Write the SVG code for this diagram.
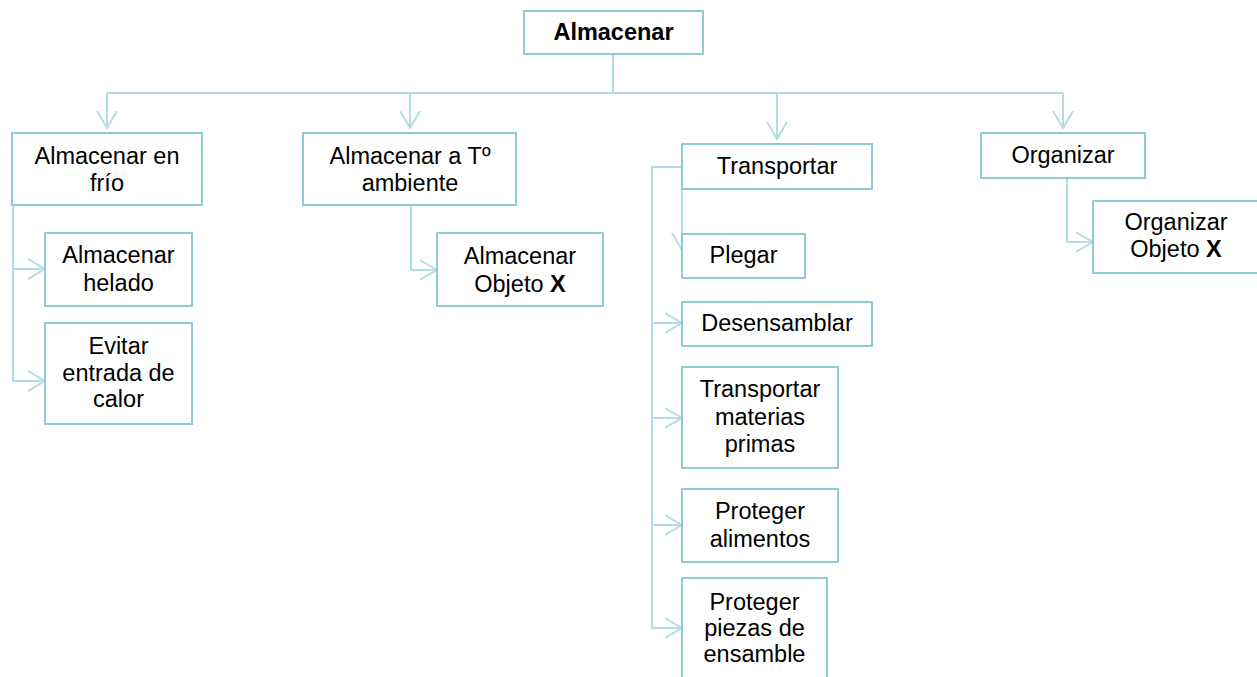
<svg xmlns="http://www.w3.org/2000/svg" width="1257" height="677" viewBox="0 0 1257 677">
<style>
.box{fill:#fff;stroke:#90cad3;stroke-width:2}
.t{font-family:"Liberation Sans",Arial,sans-serif;font-size:23.5px;fill:#000;text-anchor:middle}
.b{font-weight:bold}
.c{fill:none;stroke:#b3dee3;stroke-width:2}
</style>
<defs>
<marker id="ah" markerUnits="userSpaceOnUse" viewBox="0 0 18 22" refX="17" refY="11" markerWidth="18" markerHeight="22" orient="auto">
<path d="M0,1 L17,11 L0,21" fill="none" stroke="#b3dee3" stroke-width="2"/>
</marker>
</defs>
<rect width="1257" height="677" fill="#fff"/>
<g id="connectors">
<path class="c" d="M613,54 V93"/>
<path class="c" d="M107,93 H1063"/>
<path class="c" d="M107,93 V128" marker-end="url(#ah)"/>
<path class="c" d="M410,93 V128" marker-end="url(#ah)"/>
<path class="c" d="M777,93 V139" marker-end="url(#ah)"/>
<path class="c" d="M1063,93 V128" marker-end="url(#ah)"/>
<path class="c" d="M13,168 V381 H45" marker-end="url(#ah)"/>
<path class="c" d="M13,269 H45" marker-end="url(#ah)"/>
<path class="c" d="M411,205 V270 H437" marker-end="url(#ah)"/>
<path class="c" d="M682,167 H652 V628 H682" marker-end="url(#ah)"/>
<path class="c" d="M652,323 H682" marker-end="url(#ah)"/>
<path class="c" d="M652,418 H682" marker-end="url(#ah)"/>
<path class="c" d="M652,525 H682" marker-end="url(#ah)"/>
<path class="c" d="M682,189 V250" marker-end="url(#ah)"/>
<path class="c" d="M1067,178 V242 H1093" marker-end="url(#ah)"/>
</g>
<g id="n-root"><rect class="box" x="524" y="11" width="179" height="43"/><text class="t b" x="613.5" y="40">Almacenar</text></g>
<g id="n-frio"><rect class="box" x="12" y="133" width="190" height="72"/><text class="t" x="107" y="164">Almacenar en</text><text class="t" x="107" y="191">frío</text></g>
<g id="n-tamb"><rect class="box" x="303" y="133" width="213" height="72"/><text class="t" x="410" y="164">Almacenar a Tº</text><text class="t" x="410" y="191">ambiente</text></g>
<g id="n-transportar"><rect class="box" x="682" y="144" width="190" height="45"/><text class="t" x="777" y="174">Transportar</text></g>
<g id="n-organizar"><rect class="box" x="981" y="133" width="164" height="45"/><text class="t" x="1063" y="163">Organizar</text></g>
<g id="n-helado"><rect class="box" x="45" y="233" width="147" height="73"/><text class="t" x="118.5" y="263">Almacenar</text><text class="t" x="118.5" y="291">helado</text></g>
<g id="n-evitar"><rect class="box" x="45" y="323" width="147" height="101"/><text class="t" x="118.5" y="354">Evitar</text><text class="t" x="118.5" y="381">entrada de</text><text class="t" x="118.5" y="407">calor</text></g>
<g id="n-objx"><rect class="box" x="437" y="233" width="166" height="73"/><text class="t" x="520" y="264">Almacenar</text><text class="t" x="520" y="292">Objeto <tspan class="b">X</tspan></text></g>
<g id="n-plegar"><rect class="box" x="682" y="234" width="123" height="44"/><text class="t" x="743.5" y="263">Plegar</text></g>
<g id="n-desens"><rect class="box" x="682" y="302" width="190" height="44"/><text class="t" x="777" y="331">Desensamblar</text></g>
<g id="n-materias"><rect class="box" x="682" y="367" width="156" height="101"/><text class="t" x="760" y="397">Transportar</text><text class="t" x="760" y="425">materias</text><text class="t" x="760" y="452">primas</text></g>
<g id="n-alimentos"><rect class="box" x="682" y="489" width="156" height="73"/><text class="t" x="760" y="519">Proteger</text><text class="t" x="760" y="547">alimentos</text></g>
<g id="n-piezas"><rect class="box" x="682" y="578" width="145" height="112"/><text class="t" x="754.5" y="610">Proteger</text><text class="t" x="754.5" y="636">piezas de</text><text class="t" x="754.5" y="662">ensamble</text></g>
<g id="n-orgx"><rect class="box" x="1093" y="201" width="166" height="72"/><text class="t" x="1176" y="230">Organizar</text><text class="t" x="1176" y="257">Objeto <tspan class="b">X</tspan></text></g>
</svg>
